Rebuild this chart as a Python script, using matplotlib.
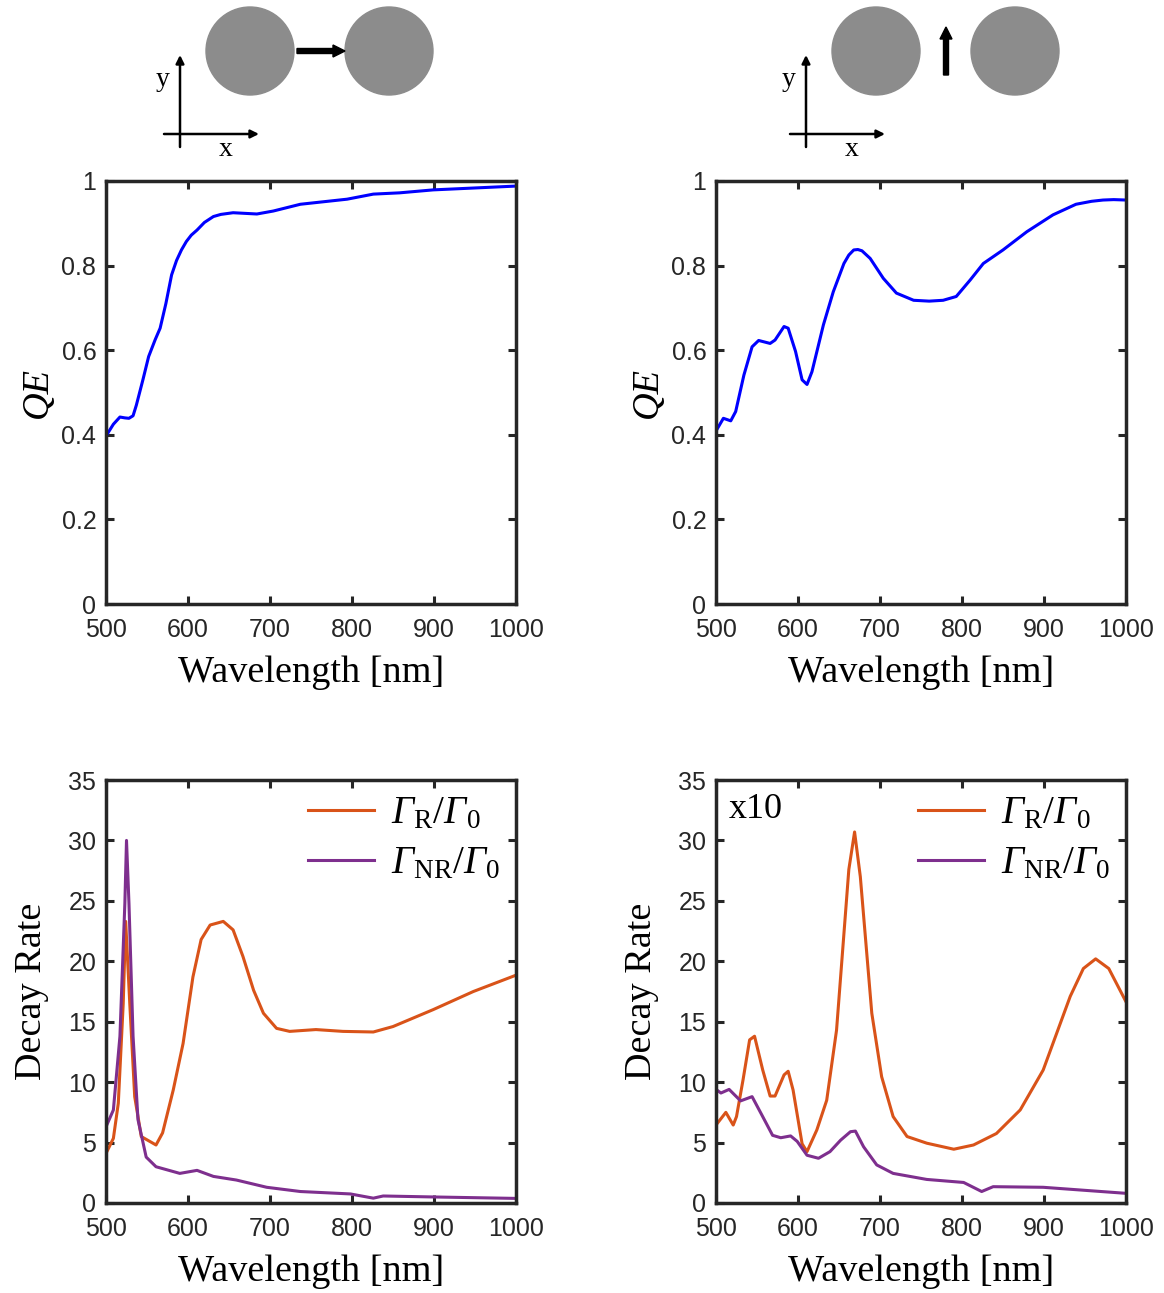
import matplotlib
matplotlib.use("Agg")
import matplotlib.pyplot as plt
from matplotlib.patches import Circle, FancyArrow

plt.rcParams["font.family"] = "Liberation Sans"
# custom mathtext so that the capital Gamma comes out italic, like the original
plt.rcParams["mathtext.fontset"] = "custom"
plt.rcParams["mathtext.rm"] = "Liberation Serif:italic"
plt.rcParams["mathtext.it"] = "Liberation Serif:italic"
plt.rcParams["mathtext.sf"] = "Liberation Serif"

# quantum efficiency, longitudinal dimer (left) and transverse dimer (right)
qe_l_wl = [500, 509, 517, 523, 528, 533, 537, 545, 552, 560, 566, 573, 580, 586,
           592, 598, 604, 611, 620, 631, 640, 655, 684, 704, 737, 794, 826, 858,
           899, 1000]
qe_l = [0.397, 0.425, 0.442, 0.440, 0.439, 0.445, 0.470, 0.530, 0.585, 0.625,
        0.652, 0.710, 0.778, 0.812, 0.837, 0.857, 0.872, 0.884, 0.902, 0.916,
        0.921, 0.925, 0.922, 0.929, 0.945, 0.957, 0.969, 0.972, 0.979, 0.988]

qe_t_wl = [500, 509, 518, 524, 534, 544, 552, 566, 572, 583, 588, 597, 605, 611,
           617, 631, 643, 656, 662, 668, 673, 678, 688, 704, 720, 741, 760, 777,
           793, 810, 826, 850, 879, 911, 939, 958, 972, 985, 1000]
qe_t = [0.409, 0.439, 0.433, 0.455, 0.541, 0.608, 0.623, 0.616, 0.624, 0.656,
        0.652, 0.597, 0.530, 0.519, 0.549, 0.660, 0.738, 0.805, 0.825, 0.837,
        0.838, 0.835, 0.817, 0.770, 0.735, 0.718, 0.716, 0.718, 0.727, 0.766,
        0.805, 0.837, 0.880, 0.920, 0.945, 0.952, 0.955, 0.956, 0.955]

# decay rates, longitudinal
gr_l_wl = [500, 509, 515, 521, 524, 529, 535, 543, 561, 569, 582, 594, 606, 616,
           627, 643, 655, 667, 680, 692, 708, 724, 756, 789, 826, 850, 899, 948, 1000]
gr_l = [4.1, 5.35, 8.25, 16.5, 23.3, 16.5, 8.8, 5.5, 4.8, 5.8, 9.35, 13.2, 18.7,
        21.8, 23.0, 23.3, 22.6, 20.4, 17.6, 15.7, 14.45, 14.2, 14.35, 14.2, 14.15,
        14.6, 16.0, 17.5, 18.85]
gnr_l_wl = [500, 509, 517, 523, 525, 528, 533, 539, 549, 561, 590, 611, 631, 659,
            696, 737, 798, 826, 838, 899, 1000]
gnr_l = [6.3, 7.7, 13.8, 24.8, 30.0, 24.8, 13.8, 6.9, 3.8, 3.0, 2.45, 2.7, 2.2,
         1.9, 1.3, 0.95, 0.75, 0.4, 0.58, 0.5, 0.38]

# decay rates, transverse (x10)
gr_t_wl = [500, 512, 521, 525, 533, 541, 547, 557, 566, 572, 583, 588, 594, 605,
           611, 623, 635, 647, 662, 669, 676, 690, 702, 716, 733, 757, 790, 814,
           842, 871, 899, 932, 948, 963, 979, 1000]
gr_t = [6.45, 7.5, 6.45, 7.15, 10.2, 13.5, 13.8, 11.0, 8.85, 8.85, 10.6, 10.9,
        9.35, 4.9, 4.25, 6.05, 8.5, 14.3, 27.6, 30.7, 27.0, 15.7, 10.45, 7.15,
        5.5, 4.95, 4.45, 4.8, 5.75, 7.7, 11.0, 17.1, 19.4, 20.2, 19.4, 16.65]
gnr_t_wl = [500, 506, 516, 530, 544, 555, 569, 579, 591, 599, 611, 625, 639, 652,
            664, 670, 680, 696, 716, 757, 802, 824, 838, 899, 1000]
gnr_t = [9.4, 9.1, 9.4, 8.45, 8.8, 7.4, 5.6, 5.4, 5.55, 5.1, 3.95, 3.7, 4.25,
         5.2, 5.9, 5.95, 4.65, 3.15, 2.45, 1.95, 1.7, 0.95, 1.35, 1.3, 0.8]

wl_ticks = [500, 600, 700, 800, 900, 1000]
qe_ticks = [0, 0.2, 0.4, 0.6, 0.8, 1]
qe_ticklabels = ["0", "0.2", "0.4", "0.6", "0.8", "1"]
dr_ticks = [0, 5, 10, 15, 20, 25, 30, 35]

lbl_r = r"$\Gamma_{\mathsf{R}}\mathsf{/}\Gamma_{\mathsf{0}}$"
lbl_nr = r"$\Gamma_{\mathsf{NR}}\mathsf{/}\Gamma_{\mathsf{0}}$"

C_R = (0.85, 0.325, 0.098)
C_NR = (0.494, 0.184, 0.556)
AX_C = (0.15, 0.15, 0.15)
SERIF = "Liberation Serif"

fig = plt.figure(figsize=(11.64, 12.93), dpi=100)
W, H = 1164, 1293


def make_ax(x0, y_top):
    ax = fig.add_axes([x0 / W, 1 - (y_top + 423) / H, 410 / W, 423 / H])
    ax.set_xlim(500, 1000)
    ax.set_xticks(wl_ticks)
    ax.tick_params(direction="in", top=True, right=True, length=6, width=2.2,
                   labelsize=18, colors=AX_C)
    ax.tick_params(axis="x", pad=10)
    ax.tick_params(axis="y", pad=7)
    for s in ax.spines.values():
        s.set_linewidth(2.5)
        s.set_color(AX_C)
    ax.set_xlabel("Wavelength [nm]", family=SERIF, fontsize=27.5, labelpad=10)
    return ax


ax1 = make_ax(106, 181)
ax2 = make_ax(716, 181)
ax3 = make_ax(106, 780)
ax4 = make_ax(716, 780)

for ax, wl, qe in [(ax1, qe_l_wl, qe_l), (ax2, qe_t_wl, qe_t)]:
    ax.plot(wl, qe, color="blue", lw=2.2)
    ax.set_ylim(0, 1)
    ax.set_yticks(qe_ticks)
    ax.set_yticklabels(qe_ticklabels)
    ax.set_ylabel("QE", family=SERIF, style="italic", fontsize=27.5, labelpad=5)

for ax, a, b, c, d in [(ax3, gr_l_wl, gr_l, gnr_l_wl, gnr_l),
                       (ax4, gr_t_wl, gr_t, gnr_t_wl, gnr_t)]:
    ax.plot(a, b, color=C_R, lw=2.2, label=lbl_r)
    ax.plot(c, d, color=C_NR, lw=2.2, label=lbl_nr)
    ax.set_ylim(0, 35)
    ax.set_yticks(dr_ticks)
    ax.set_ylabel("Decay Rate", family=SERIF, fontsize=27.5, labelpad=14)
    ax.legend(loc="upper right", frameon=False, fontsize=28, handlelength=1.7,
              handletextpad=0.45, labelspacing=0.35, borderaxespad=0.0)

ax4.text(0.03, 0.97, "x10", transform=ax4.transAxes, family=SERIF, fontsize=26,
         va="top", ha="left")

# schematic drawings on top, in pixel coordinates
ov = fig.add_axes([0, 0, 1, 1], zorder=-1)
ov.set_xlim(0, W)
ov.set_ylim(H, 0)
ov.axis("off")

gray = (0.55, 0.55, 0.55)
for dx, arrow in [(0, "h"), (626, "v")]:
    ov.add_patch(Circle((250 + dx, 51), 44, color=gray))
    ov.add_patch(Circle((389 + dx, 51), 44, color=gray))
    if arrow == "h":
        ov.add_patch(FancyArrow(297, 51, 36, 0, width=5, head_width=12,
                                head_length=12, color="black"))
    else:
        ov.add_patch(FancyArrow(946, 75, 0, -36, width=5, head_width=12,
                                head_length=12, color="black"))
    # little coordinate frame
    ov.annotate("", xy=(180 + dx, 55), xytext=(180 + dx, 147),
                arrowprops=dict(arrowstyle="-|>", lw=1.8, color="black",
                                mutation_scale=12, shrinkA=0, shrinkB=0))
    ov.annotate("", xy=(259 + dx, 134), xytext=(164 + dx, 134),
                arrowprops=dict(arrowstyle="-|>", lw=1.8, color="black",
                                mutation_scale=12, shrinkA=0, shrinkB=0))
    ov.text(163 + dx, 79, "y", family=SERIF, fontsize=20, ha="center", va="center")
    ov.text(226 + dx, 150, "x", family=SERIF, fontsize=20, ha="center", va="center")

fig.savefig("out.png", dpi=100)
